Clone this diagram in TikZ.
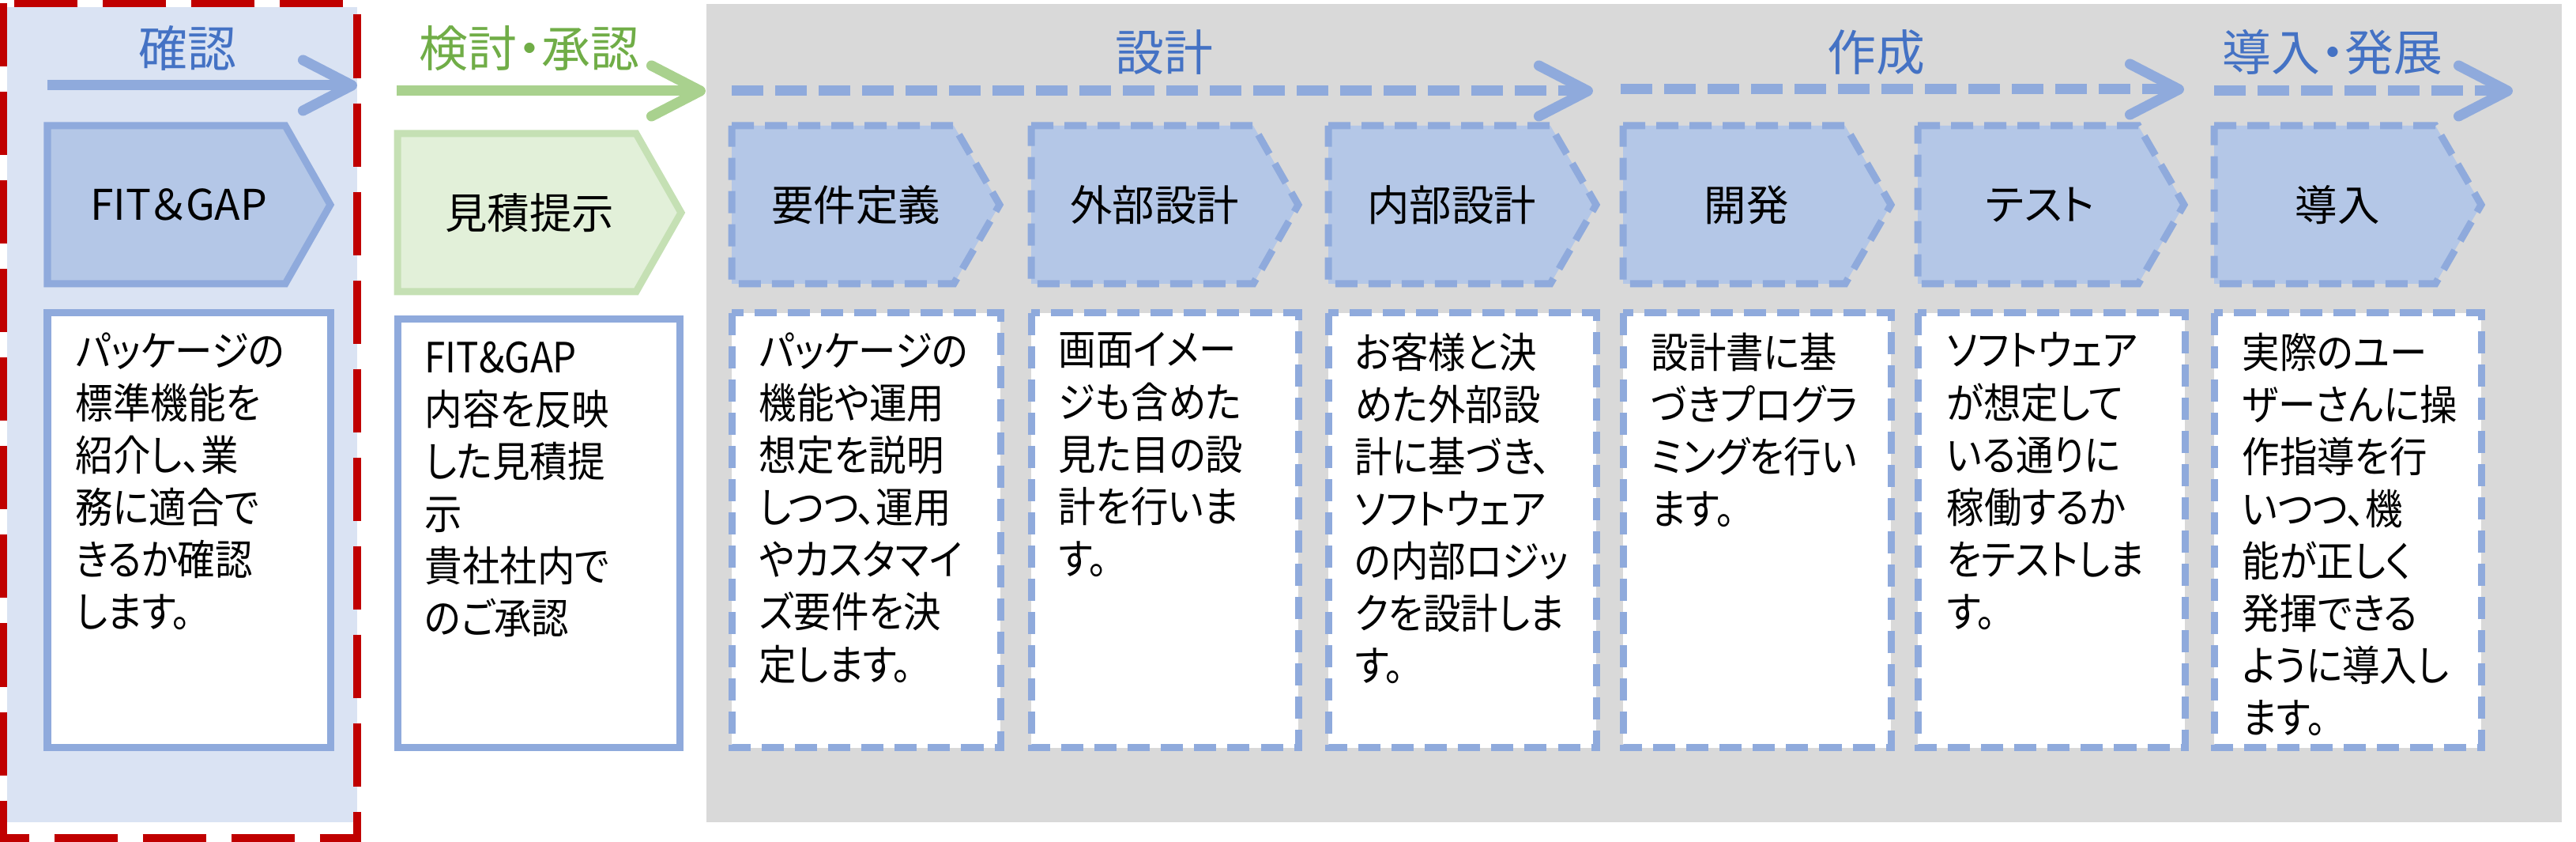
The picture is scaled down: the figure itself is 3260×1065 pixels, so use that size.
\documentclass[tikz,border=0pt]{standalone}
\usepackage{fontspec}
\newfontfamily\jpfont[RawFeature=+palt]{Noto Sans CJK JP}
\newfontfamily\jpnarrow[RawFeature=+palt, FakeStretch=0.9]{Noto Sans CJK JP}
\usetikzlibrary{arrows.meta}

\definecolor{bgblue}{HTML}{DAE3F3}
\definecolor{bggrey}{HTML}{D9D9D9}
\definecolor{chevfill}{HTML}{B4C7E7}
\definecolor{lineblue}{HTML}{8FAADC}
\definecolor{textblue}{HTML}{4472C4}
\definecolor{greenfill}{HTML}{E2F0D9}
\definecolor{greenline}{HTML}{C5E0B4}
\definecolor{greenarrow}{HTML}{A9D18E}
\definecolor{textgreen}{HTML}{70AD47}
\definecolor{framered}{HTML}{C00000}

\tikzset{
  hdr/.style={font=\jpfont\fontsize{17.6}{21}\selectfont, inner sep=0pt},
  chevlabel/.style={font=\jpfont\fontsize{15.2}{18}\selectfont, inner sep=0pt},
  desctext/.style={font=\jpnarrow\fontsize{15}{18.8}\selectfont, align=left,
    inner sep=0pt, anchor=north west},
  solidline/.style={line width=0.09cm, line join=miter},
  dashline/.style={line width=0.09cm, line join=miter, dash pattern=on 0.28cm off 0.14cm},
  barb/.style={-{Straight Barb[round, length=0.62cm, width=0.64cm]}},
}

\begin{document}
\begin{tikzpicture}[x=0.01cm,y=-0.01cm]
  \useasboundingbox (0,0) rectangle (3260,1065);

  % backgrounds
  \fill[bgblue] (9,9) rectangle (452,1040);
  \fill[bggrey] (894,5) rectangle (3242,1040);
  \draw[framered, line width=0.1cm, dash pattern=on 0.8cm off 0.32cm] (4,4) rectangle (452,1060);

  % phase arrows
  \coordinate (a1s) at (60,108);   \coordinate (a1e) at (452,108);
  \coordinate (a2s) at (502,115);  \coordinate (a2e) at (893,115);
  \coordinate (a3s) at (926,115);  \coordinate (a3e) at (2016,115);
  \coordinate (a4s) at (2051,113); \coordinate (a4e) at (2764,113);
  \coordinate (a5s) at (2802,115); \coordinate (a5e) at (3180,115);

  \begin{scope}[line width=0.13cm, barb]
    \draw[lineblue] (a1s) -- (a1e);
    \draw[greenarrow] (a2s) -- (a2e);
    \begin{scope}[dash pattern=on 0.40cm off 0.15cm]
      \draw[lineblue] (a3s) -- (a3e);
      \draw[lineblue] (a4s) -- (a4e);
      \draw[lineblue] (a5s) -- (a5e);
    \end{scope}
  \end{scope}

  \begin{scope}[every node/.style={hdr, text=textblue}]
    \node (h1) at (237,61) {確認};
    \node[text=textgreen] (h2) at (670,61) {検討・承認};
    \node (h3) at (1473,66) {設計};
    \node (h4) at (2374,66) {作成};
    \node (h5) at (2952,66) {導入・発展};
  \end{scope}

  % chevrons
  \draw[solidline, draw=lineblue, fill=chevfill] (60,159) -- (361,159) -- (418,259) -- (361,359) -- (60,359) -- cycle;
  \draw[solidline, draw=greenline, fill=greenfill] (503,169) -- (805,169) -- (862,269) -- (805,369) -- (503,369) -- cycle;
  \begin{scope}[dashline, draw=lineblue, fill=chevfill]
    \filldraw (926,159) -- (1207,159) -- (1265,259) -- (1207,359) -- (926,359) -- cycle;
    \filldraw (1305,159) -- (1586,159) -- (1643,259) -- (1586,359) -- (1305,359) -- cycle;
    \filldraw (1681,159) -- (1962,159) -- (2020,259) -- (1962,359) -- (1681,359) -- cycle;
    \filldraw (2054,159) -- (2335,159) -- (2393,259) -- (2335,359) -- (2054,359) -- cycle;
    \filldraw (2427,159) -- (2706,159) -- (2764,259) -- (2706,359) -- (2427,359) -- cycle;
    \filldraw (2802,159) -- (3082,159) -- (3140,259) -- (3082,359) -- (2802,359) -- cycle;
  \end{scope}

  \begin{scope}[every node/.style={chevlabel}]
    \node (1) at (226,259)  {FIT＆GAP};
    \node (2) at (670,269)  {見積提示};
    \node (3) at (1083,259) {要件定義};
    \node (4) at (1461,259) {外部設計};
    \node (5) at (1837,259) {内部設計};
    \node (6) at (2210,259) {開発};
    \node (7) at (2582,259) {テスト};
    \node (8) at (2958,259) {導入};
  \end{scope}

  % description boxes
  \draw[solidline, draw=lineblue, fill=white] (60,396) rectangle (418,946);
  \draw[solidline, draw=lineblue, fill=white] (503,404) rectangle (860,946);
  \begin{scope}[dashline, draw=lineblue, fill=white]
    \filldraw (926,396) rectangle (1266,946);
    \filldraw (1305,396) rectangle (1643,946);
    \filldraw (1681,396) rectangle (2020,946);
    \filldraw (2054,396) rectangle (2393,946);
    \filldraw (2427,396) rectangle (2765,946);
    \filldraw (2802,396) rectangle (3140,946);
  \end{scope}

  \begin{scope}[every node/.style={desctext}]
    \node (t1) at (95,420)   {パッケージの\\標準機能を\\紹介し、業\\務に適合で\\きるか確認\\します。};
    \node (t2) at (537,431)  {FIT\&GAP\\内容を反映\\した見積提\\示\\貴社社内で\\のご承認};
    \node (t3) at (960,420)  {パッケージの\\機能や運用\\想定を説明\\しつつ、運用\\やカスタマイ\\ズ要件を決\\定します。};
    \node (t4) at (1339,420) {画面イメー\\ジも含めた\\見た目の設\\計を行いま\\す。};
    \node (t5) at (1714,420) {お客様と決\\めた外部設\\計に基づき、\\ソフトウェア\\の内部ロジッ\\クを設計しま\\す。};
    \node (t6) at (2089,420) {設計書に基\\づきプログラ\\ミングを行い\\ます。};
    \node (t7) at (2463,420) {ソフトウェア\\が想定して\\いる通りに\\稼働するか\\をテストしま\\す。};
    \node (t8) at (2837,420) {実際のユー\\ザーさんに操\\作指導を行\\いつつ、機\\能が正しく\\発揮できる\\ように導入し\\ます。};
  \end{scope}

\end{tikzpicture}
\end{document}
